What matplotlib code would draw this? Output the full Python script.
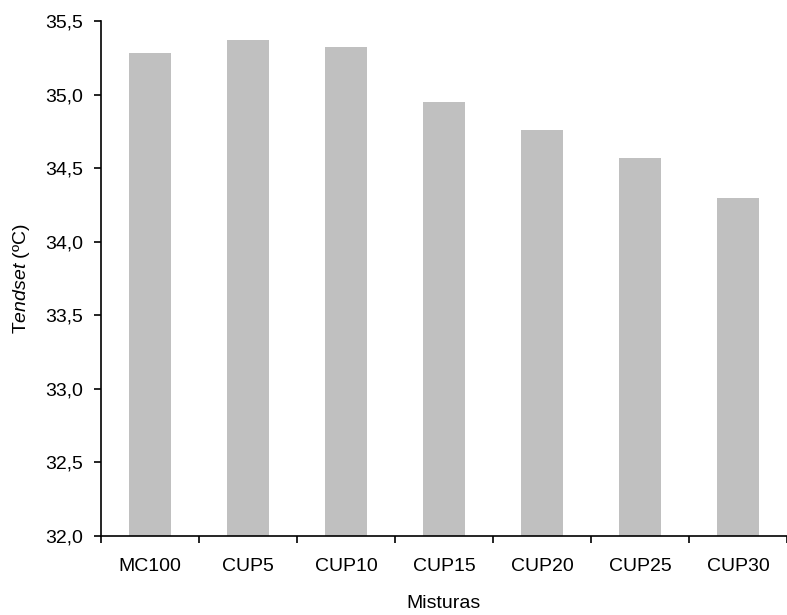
import matplotlib
matplotlib.use("Agg")
import matplotlib.pyplot as plt

categories = ["MC100", "CUP5", "CUP10", "CUP15", "CUP20", "CUP25", "CUP30"]
values = [35.28, 35.37, 35.32, 34.95, 34.76, 34.57, 34.30]
yticks = [32.0, 32.5, 33.0, 33.5, 34.0, 34.5, 35.0, 35.5]
ytick_labels = ["32,0", "32,5", "33,0", "33,5", "34,0", "34,5", "35,0", "35,5"]

plt.rcParams['font.family'] = ['Liberation Sans', 'DejaVu Sans']
plt.rcParams['mathtext.fontset'] = 'custom'
plt.rcParams['mathtext.rm'] = 'Liberation Sans'
plt.rcParams['mathtext.it'] = 'Liberation Sans:italic'

W, H = 787, 615
fig = plt.figure(figsize=(W/100, H/100), dpi=100)
left, right = 101, 787
bottom, top = 536, 21
ax = fig.add_axes([left/W, 1-bottom/H, (right-left)/W, (bottom-top)/H])

x = list(range(len(categories)))
ax.bar(x, values, width=0.42, color="#C0C0C0", bottom=0)
ax.set_ylim(32.0, 35.5)
step = 99.2
ax.set_xlim(-0.5, -0.5 + (right-left)/step)

ax.set_yticks(yticks)
ax.set_yticklabels(ytick_labels)
ax.set_xticks(x)
ax.set_xticklabels(categories)
ax.set_xticks([i - 0.5 for i in range(len(categories) + 1)], minor=True)
ax.tick_params(axis='x', which='major', length=0, pad=16, labelsize=14)
ax.tick_params(axis='x', which='minor', length=5, width=1.2, direction='out')
ax.tick_params(axis='y', length=5, width=1.2, direction='out', labelsize=14, pad=8)

for s in ['top', 'right']:
    ax.spines[s].set_visible(False)
for s in ['left', 'bottom']:
    ax.spines[s].set_linewidth(1.2)

ax.set_xlabel("Misturas", fontsize=14, labelpad=14)
ax.set_ylabel(r"T$\mathit{endset}$ (ºC)", fontsize=14, labelpad=9)

fig.savefig("out.png", dpi=100)
